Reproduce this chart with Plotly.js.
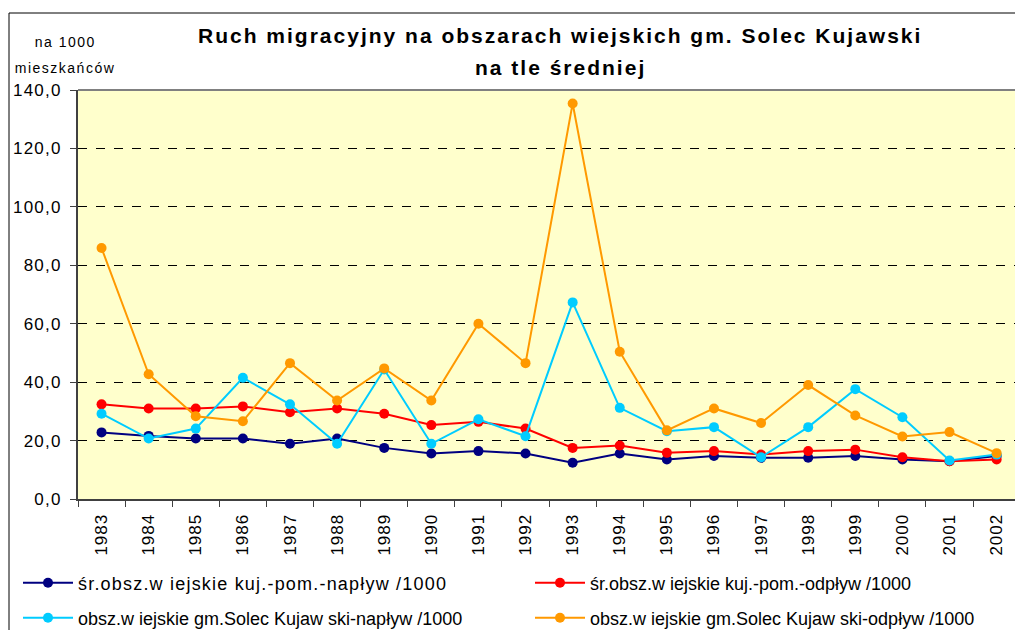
<!DOCTYPE html>
<html>
<head>
<meta charset="utf-8">
<script src="https://cdn.plot.ly/plotly-3.0.1.min.js"></script>
<style>
html,body{margin:0;padding:0;background:#fff;}
#chart{width:1015px;height:630px;}
.annotation[data-index="0"] text, .annotation[data-index="1"] text {letter-spacing:2px;}
.annotation[data-index="2"] text, .annotation[data-index="3"] text {letter-spacing:1.5px;}
.ytick text {letter-spacing:1.2px;}
.xtick text {letter-spacing:1px;}
.legendtext {letter-spacing:1.2px;}
</style>
</head>
<body>
<div id="chart"></div>
<script>
const years = ["1983","1984","1985","1986","1987","1988","1989","1990","1991","1992","1993","1994","1995","1996","1997","1998","1999","2000","2001","2002"];
const srNaplyw = [22.8,21.6,20.7,20.7,18.9,20.7,17.5,15.6,16.4,15.6,12.4,15.6,13.5,14.7,14.1,14.1,14.7,13.5,12.9,14.7];
const srOdplyw = [32.4,31.0,31.0,31.7,29.7,31.0,29.2,25.3,26.4,24.1,17.5,18.3,15.8,16.4,15.2,16.4,16.9,14.3,12.9,13.5];
const solecNaplyw = [29.2,20.7,24.1,41.5,32.4,18.9,44.3,18.9,27.3,21.5,67.3,31.2,23.2,24.6,14.3,24.6,37.6,28.0,13.2,15.2];
const solecOdplyw = [85.9,42.7,28.3,26.6,46.5,33.7,44.7,33.7,60.0,46.5,135.4,50.4,23.5,31.0,26.0,39.0,28.6,21.4,22.9,15.7];
const seriesNames = [
  "śr.obsz.w iejskie kuj.-pom.-napływ /1000",
  "śr.obsz.w iejskie kuj.-pom.-odpływ /1000",
  "obsz.w iejskie gm.Solec Kujaw ski-napływ /1000",
  "obsz.w iejskie gm.Solec Kujaw ski-odpływ /1000"
];
const seriesColors = ["#000080","#FF0000","#00CCFF","#FF9900"];
const seriesData = [srNaplyw, srOdplyw, solecNaplyw, solecOdplyw];
const legendIds = ["legend","legend2","legend3","legend4"];
const yTicks = [0,20,40,60,80,100,120,140];

const font = "Liberation Sans, Arial, sans-serif";
const traces = seriesData.map((d,i)=>({
  type:"scatter", mode:"lines+markers", x: years, y: d, name: seriesNames[i],
  line:{color:seriesColors[i], width:2},
  marker:{color:seriesColors[i], size:10},
  legend: legendIds[i]
}));
function leg(xpx, ypx){
  return {
    orientation:"h", xref:"container", yref:"container", x:xpx/1015, y:1-ypx/630, yanchor:"middle", xanchor:"left",
    font:{family:font, size:18, color:"#000"}, bgcolor:"rgba(0,0,0,0)", itemwidth:50
  };
}
const layout = {
  width:1015, height:630,
  margin:{l:78, r:0, t:90, b:131},
  paper_bgcolor:"#ffffff", plot_bgcolor:"#FFFFCC",
  separators:", ",
  font:{family:font, color:"#000", size:16},
  showlegend:true,
  xaxis:{
    type:"category", range:[-0.5,19.39], tickangle:-90,
    tickson:"boundaries", ticks:"outside", ticklen:6, tickcolor:"#404040", tickwidth:1,
    ticklabelstandoff:6,
    showline:true, linecolor:"#404040", linewidth:2, mirror:false,
    showgrid:false, zeroline:false,
    tickfont:{family:font, size:17, color:"#000"}
  },
  yaxis:{
    range:[0,140], tickvals:yTicks, tickformat:".1f",
    ticks:"outside", ticklen:6, tickcolor:"#404040", tickwidth:1,
    ticklabelstandoff:5,
    showline:true, linecolor:"#404040", linewidth:2,
    showgrid:true, gridcolor:"#000000", griddash:"dash", gridwidth:1,
    zeroline:false,
    tickfont:{family:font, size:17, color:"#000"}
  },
  legend: leg(18, 583),
  legend2: leg(530, 583),
  legend3: leg(18, 618),
  legend4: leg(530, 618),
  shapes:[
    {type:"line", xref:"paper", yref:"paper", x0:0, x1:1, y0:1, y1:1, line:{color:"#808080", width:2}},
    {type:"line", xref:"paper", yref:"paper", x0:-69/937, x1:-69/937, y0:-1, y1:(630-13-131)/409, line:{color:"#000", width:1}},
    {type:"line", xref:"paper", yref:"paper", x0:-69/937, x1:1, y0:(630-13-131)/409, y1:(630-13-131)/409, line:{color:"#000", width:1}}
  ],
  annotations:[
    {xref:"paper", yref:"paper", x:(560-78)/937, y:(630-131-36)/409, xanchor:"center", yanchor:"middle", showarrow:false,
     text:"<b>Ruch migracyjny na obszarach wiejskich gm. Solec Kujawski</b>", font:{family:font, size:21, color:"#000"}},
    {xref:"paper", yref:"paper", x:(560-78)/937, y:(630-131-67)/409, xanchor:"center", yanchor:"middle", showarrow:false,
     text:"<b>na tle średniej</b>", font:{family:font, size:21, color:"#000"}},
    {xref:"paper", yref:"paper", x:(65-78)/937, y:(630-131-42)/409, xanchor:"center", yanchor:"middle", showarrow:false,
     text:"na 1000", font:{family:font, size:14, color:"#000"}},
    {xref:"paper", yref:"paper", x:(65-78)/937, y:(630-131-68)/409, xanchor:"center", yanchor:"middle", showarrow:false,
     text:"mieszkańców", font:{family:font, size:14, color:"#000"}}
  ]
};
Plotly.newPlot("chart", traces, layout, {displayModeBar:false, staticPlot:true});
</script>
</body>
</html>
